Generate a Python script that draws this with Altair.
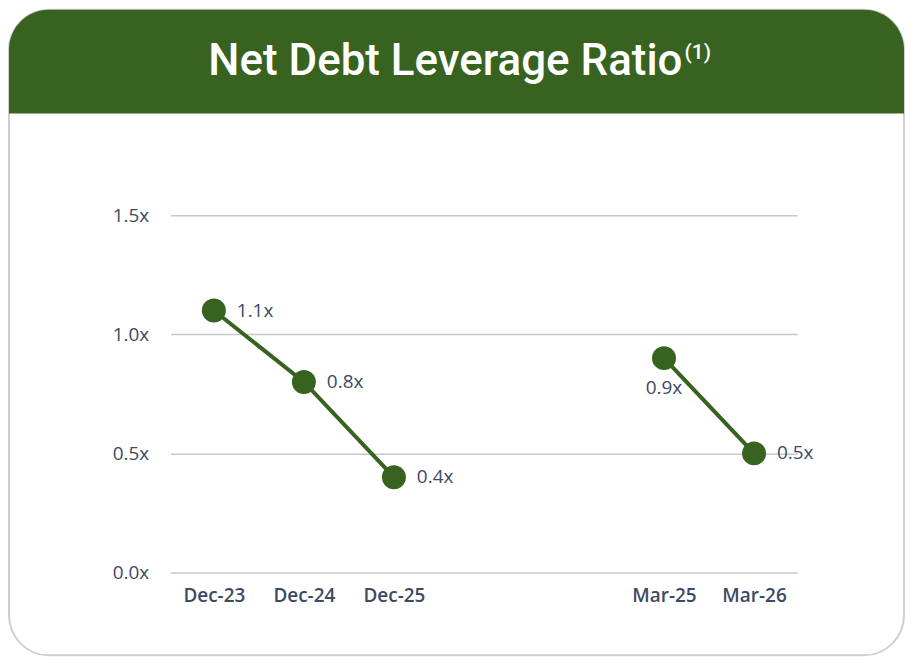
import altair as alt
import pandas as pd

# ---- data ----
periods = ["Dec-23", "Dec-24", "Dec-25", "Mar-25", "Mar-26"]
groups = ["Annual", "Annual", "Annual", "Quarter", "Quarter"]
ratios = [1.1, 0.8, 0.4, 0.9, 0.5]
labels = ["1.1x", "0.8x", "0.4x", "0.9x", "0.5x"]
x_domain = ["Dec-23", "Dec-24", "Dec-25", "gap1", "gap2", "Mar-25", "Mar-26"]
y_ticks = [0.0, 0.5, 1.0, 1.5]

df = pd.DataFrame({"period": periods, "group": groups, "ratio": ratios, "label": labels})

GREEN = "#37621f"
TEXT = "#3d4a63"
FONT = "Open Sans"
TFONT = "Roboto"

W, H = 628, 358
# card extents relative to plot area origin
CL, CR, CT, CB = -162, 735, -206, 441
HB = -102

x_enc = alt.X(
    "period:O",
    scale=alt.Scale(type="point", domain=x_domain, padding=0.48),
    axis=alt.Axis(
        title=None, ticks=False, domain=False, labelAngle=0,
        labelFontSize=19, labelFont=FONT, labelFontWeight=600,
        labelColor=TEXT, labelPadding=14,
        labelExpr="indexof(datum.value, 'gap') == 0 ? '' : datum.value",
        grid=False,
    ),
)
y_enc = alt.Y(
    "ratio:Q",
    scale=alt.Scale(domain=[0, 1.5], nice=False, zero=True),
    axis=alt.Axis(
        title=None, values=y_ticks, ticks=False, domain=False,
        labelFontSize=19, labelFont=FONT, labelColor=TEXT, labelPadding=22,
        labelExpr="format(datum.value, '.1f') + 'x'",
        grid=True, gridColor="#c8c8c8", gridWidth=1.5,
    ),
)

base = alt.Chart(df)

one = alt.Data(values=[{"a": 1}])

card = alt.Chart(one).mark_rect(
    fillOpacity=0, stroke="#cfcfcf", strokeWidth=2, cornerRadius=40
).encode(x=alt.value(CL), x2=alt.value(CR), y=alt.value(CT), y2=alt.value(CB))

header = alt.Chart(one).mark_rect(
    fill=GREEN, cornerRadiusTopLeft=40, cornerRadiusTopRight=40
).encode(x=alt.value(CL), x2=alt.value(CR), y=alt.value(CT), y2=alt.value(HB))

title = alt.Chart(one).mark_text(
    text="Net Debt Leverage Ratio", font=TFONT, fontSize=44, fontWeight=500,
    color="white", align="right", baseline="alphabetic",
).encode(x=alt.value(513), y=alt.value(-141))

sup = alt.Chart(one).mark_text(
    text="(1)", font=TFONT, fontSize=21, fontWeight=500, color="white",
    align="left", baseline="alphabetic",
).encode(x=alt.value(515), y=alt.value(-157))

lines = base.mark_line(color=GREEN, strokeWidth=4).encode(x=x_enc, y=y_enc, detail="group:N")
points = base.mark_circle(color=GREEN, size=576, opacity=1).encode(x=x_enc, y=y_enc)

lab_right = base.transform_filter(alt.datum.period != "Mar-25").mark_text(
    align="left", baseline="middle", dx=23, fontSize=19, font=FONT, color=TEXT
).encode(x=x_enc, y=y_enc, text="label:N")

lab_below = base.transform_filter(alt.datum.period == "Mar-25").mark_text(
    align="center", baseline="middle", dy=30, fontSize=19, font=FONT, color=TEXT
).encode(x=x_enc, y=y_enc, text="label:N")

chart = alt.layer(card, header, title, sup, lines, points, lab_right, lab_below).properties(
    width=W, height=H, padding=0, background="white"
).configure_view(stroke=None)

chart.save("out.html", embed_options={"renderer": "svg", "actions": False})
